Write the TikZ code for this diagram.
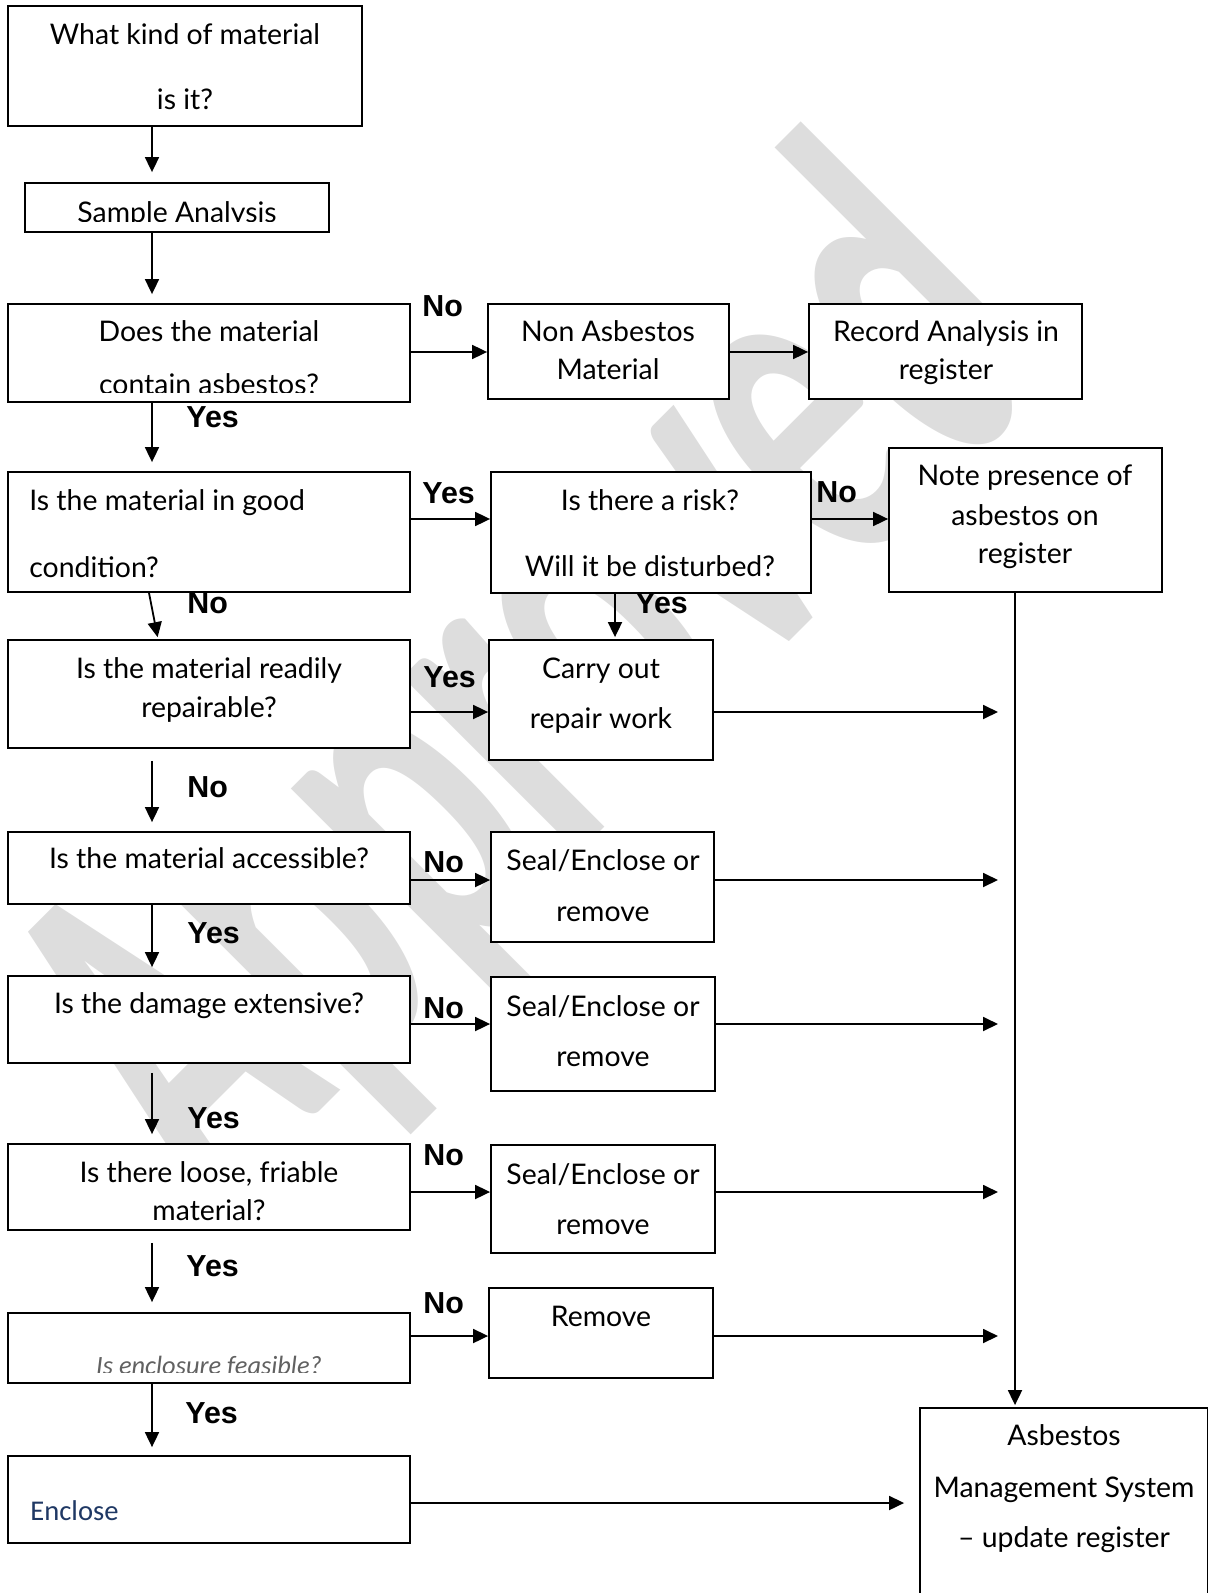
\documentclass[tikz,border=0pt]{standalone}
\usepackage{fontspec}
\setmainfont{Lato}
\newfontfamily\arialfont{Liberation Sans}
\newfontfamily\calfont{Carlito}
\usepackage{tikz}
\usetikzlibrary{arrows.meta, fit, calc}
\definecolor{enclblue}{RGB}{31,56,100}
\definecolor{wmgray}{RGB}{221,221,221}

\begin{document}
\begin{tikzpicture}[
    x=0.5pt, y=-0.5pt,
    box/.style={draw, fill=white, line width=0.9pt, inner sep=0pt},
    txt/.style={inner sep=0pt, anchor=base, font=\fontsize{14.2}{17}\selectfont},
    ltxt/.style={txt, anchor=base west},
    yn/.style={inner sep=0pt, anchor=base west, font=\arialfont\bfseries\fontsize{15.2}{17}\selectfont},
    arr/.style={->, >={Triangle[length=7.5pt, width=7pt]}, line width=0.9pt},
    wmark/.style={text=wmgray, inner sep=0pt, font=\calfont\bfseries\fontsize{171}{171}\selectfont}
]
\useasboundingbox (0,0) rectangle (1208,1593);
\clip (0,0) rectangle (1208,1593);

\node[wmark, rotate=45, xscale=0.87, yscale=1.5] (wm) at (542,692) {Approved};

\node[box, fit={(8,6) (362,126)}]        (q1) {};
\node[box, fit={(25,183) (329,232)}]     (q2) {};
\node[box, fit={(8,304) (410,402)}]      (q3) {};
\node[box, fit={(488,304) (729,399)}]    (n1) {};
\node[box, fit={(809,304) (1082,399)}]   (r1) {};
\node[box, fit={(8,472) (410,592)}]      (q4) {};
\node[box, fit={(491,472) (811,593)}]    (k1) {};
\node[box, fit={(889,448) (1162,592)}]   (nt) {};
\node[box, fit={(8,640) (410,748)}]      (q5) {};
\node[box, fit={(489,640) (713,760)}]    (c1) {};
\node[box, fit={(8,832) (410,904)}]      (q6) {};
\node[box, fit={(491,832) (714,942)}]    (s1) {};
\node[box, fit={(8,976) (410,1063)}]     (q7) {};
\node[box, fit={(491,977) (715,1091)}]   (s2) {};
\node[box, fit={(8,1144) (410,1230)}]    (q8) {};
\node[box, fit={(491,1145) (715,1253)}]  (s3) {};
\node[box, fit={(8,1313) (410,1383)}]    (q9) {};
\node[box, fit={(489,1288) (713,1378)}]  (rm) {};
\node[box, fit={(8,1456) (410,1543)}]    (en) {};
\node[box, fit={(920,1408) (1208,1640)}] (ams) {};

\node[txt] (q1a) at (185,45)  {What kind of material};
\node[txt] (q1b) at (185,110) {is it?};
\begin{scope}
  \clip (25,183) rectangle (329,221.5);
  \node[txt] (q2a) at (177,223) {Sample Analysis};
\end{scope}
\node[txt] (q3a) at (209,342) {Does the material};
\begin{scope}
  \clip (8,304) rectangle (410,393);
  \node[txt] (q3b) at (209,395) {contain asbestos?};
\end{scope}
\node[txt] (n1a) at (608,342) {Non Asbestos};
\node[txt] (n1b) at (608,380) {Material};
\node[txt] (r1a) at (946,342) {Record Analysis in};
\node[txt] (r1b) at (946,380) {register};
\node[ltxt] (q4a) at (29,510) {Is the material in good};
\node[ltxt] (q4b) at (29,577) {condition?};
\node[txt] (k1a) at (650,510) {Is there a risk?};
\node[txt] (k1b) at (650,576) {Will it be disturbed?};
\node[txt] (nta) at (1025,485) {Note presence of};
\node[txt] (ntb) at (1025,525) {asbestos on};
\node[txt] (ntc) at (1025,563) {register};
\node[txt] (q5a) at (209,678) {Is the material readily};
\node[txt] (q5b) at (209,717) {repairable?};
\node[txt] (c1a) at (601,678) {Carry out};
\node[txt] (c1b) at (601,728) {repair work};
\node[txt] (q6a) at (209,868) {Is the material accessible?};
\node[txt] (s1a) at (603,870) {Seal/Enclose or};
\node[txt] (s1b) at (603,921) {remove};
\node[txt] (q7a) at (209,1013) {Is the damage extensive?};
\node[txt] (s2a) at (603,1016) {Seal/Enclose or};
\node[txt] (s2b) at (603,1066) {remove};
\node[txt] (q8a) at (209,1182) {Is there loose, friable};
\node[txt] (q8b) at (209,1220) {material?};
\node[txt] (s3a) at (603,1184) {Seal/Enclose or};
\node[txt] (s3b) at (603,1234) {remove};
\begin{scope}
  \clip (8,1313) rectangle (410,1372.5);
  \node[txt, font=\calfont\itshape\fontsize{13.2}{16}\selectfont, text=black!62] (q9a) at (209,1374) {Is enclosure feasible?};
\end{scope}
\node[txt] (rma) at (601,1326) {Remove};
\node[ltxt, font=\calfont\fontsize{14.3}{17}\selectfont, text=enclblue] (ena) at (30,1520) {Enclose};
\node[txt] (amsa) at (1064,1445) {Asbestos};
\node[txt] (amsb) at (1064,1497) {Management System};
\node[txt] (amsc) at (1064,1547) {-- update register};

\node[yn] (l1)  at (422,317)  {No};
\node[yn] (l2)  at (186,428)  {Yes};
\node[yn] (l3)  at (422,503)  {Yes};
\node[yn] (l4)  at (816,502)  {No};
\node[yn] (l5)  at (187,613)  {No};
\node[yn] (l6)  at (635,613)  {Yes};
\node[yn] (l7)  at (423,687)  {Yes};
\node[yn] (l8)  at (187,797)  {No};
\node[yn] (l9)  at (423,872)  {No};
\node[yn] (l10) at (187,943)  {Yes};
\node[yn] (l11) at (423,1018) {No};
\node[yn] (l12) at (187,1128) {Yes};
\node[yn] (l13) at (423,1165) {No};
\node[yn] (l14) at (186,1276) {Yes};
\node[yn] (l15) at (423,1313) {No};
\node[yn] (l16) at (185,1423) {Yes};

\coordinate (spine) at (152,0);
\coordinate (drop)  at (615,0);
\coordinate (rail)  at (998,0);
\coordinate (trunk) at (1015,0);
\coordinate (row3)  at (0,352);
\coordinate (row4)  at (0,519);
\coordinate (row5)  at (0,712);
\coordinate (row6)  at (0,880);
\coordinate (row7)  at (0,1024);
\coordinate (row8)  at (0,1192);
\coordinate (row9)  at (0,1336);
\coordinate (row10) at (0,1503);

\draw[arr, shorten >=5pt] (q1.south -| spine) -- (q2.north -| spine);
\draw[arr, shorten >=4.5pt] (q2.south -| spine) -- (q3.north -| spine);
\draw[arr, shorten >=4.5pt] (q3.south -| spine) -- (q4.north -| spine);
\draw[arr, shorten >=1pt] ([xshift=-30pt]q4.south) -- ([xshift=-25.5pt]q5.north);
\draw[arr, shorten <=6pt, shorten >=4.5pt] (q5.south -| spine) -- (q6.north -| spine);
\draw[arr, shorten >=4pt] (q6.south -| spine) -- (q7.north -| spine);
\draw[arr, shorten <=4.5pt, shorten >=4.5pt] (q7.south -| spine) -- (q8.north -| spine);
\draw[arr, shorten <=6pt, shorten >=5pt] (q8.south -| spine) -- (q9.north -| spine);
\draw[arr, shorten >=4pt] (q9.south -| spine) -- (en.north -| spine);
\draw[arr, shorten >=1pt] (k1.south -| drop) -- (c1.north -| drop);

\draw[arr] (q3.east |- row3) -- (n1.west |- row3);
\draw[arr] (n1.east |- row3) -- (r1.west |- row3);
\draw[arr] (q4.east |- row4) -- (k1.west |- row4);
\draw[arr] (k1.east |- row4) -- (nt.west |- row4);
\draw[arr] (q5.east |- row5) -- (c1.west |- row5);
\draw[arr] (c1.east |- row5) -- (rail |- row5);
\draw[arr] (q6.east |- row6) -- (s1.west |- row6);
\draw[arr] (s1.east |- row6) -- (rail |- row6);
\draw[arr] (q7.east |- row7) -- (s2.west |- row7);
\draw[arr] (s2.east |- row7) -- (rail |- row7);
\draw[arr] (q8.east |- row8) -- (s3.west |- row8);
\draw[arr] (s3.east |- row8) -- (rail |- row8);
\draw[arr] (q9.east |- row9) -- (rm.west |- row9);
\draw[arr] (rm.east |- row9) -- (rail |- row9);
\draw[arr, shorten >=7.5pt] (en.east |- row10) -- (ams.west |- row10);
\draw[arr, shorten >=1pt] (nt.south -| trunk) -- (ams.north -| trunk);
\end{tikzpicture}
\end{document}
